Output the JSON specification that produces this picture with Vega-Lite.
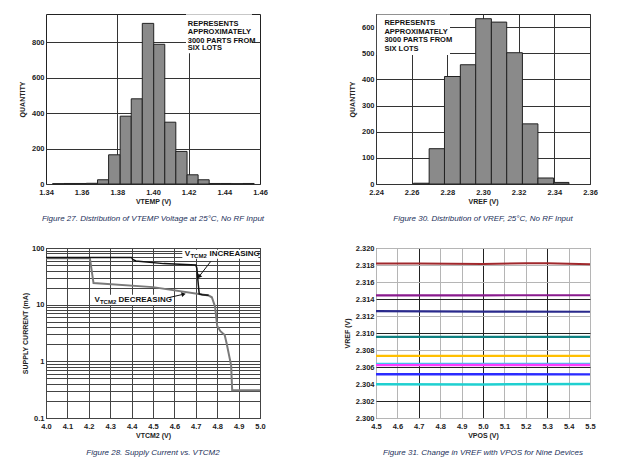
{
  "$schema": "https://vega.github.io/schema/vega-lite/v6.json",
  "padding": {"left": 17, "top": 13, "right": 5, "bottom": 5},
  "background": "white",
  "columns": 2,
  "spacing": {"row": 64, "column": 116},
  "bounds": "flush",
  "resolve": {"scale": {"color": "independent", "strokeWidth": "independent"}},
  "config": {
    "view": {"stroke": "#222", "strokeWidth": 1},
    "axis": {
      "labelFont": "Liberation Sans", "labelFontWeight": "bold", "labelFontSize": 7.5, "labelColor": "#222",
      "titleFont": "Liberation Sans", "titleFontWeight": "bold", "titleFontSize": 7, "titleColor": "#222",
      "ticks": false, "domain": false, "gridColor": "#333", "gridWidth": 1, "gridOpacity": 1, "labelPadding": 3,
      "labelOverlap": false, "tickCount": 40
    },
    "axisX": {"labelFlush": false, "labelPadding": 4, "titlePadding": 2},
    "axisY": {"labelPadding": 2, "titlePadding": 6},
    "title": {"font": "Liberation Sans", "fontStyle": "italic", "fontWeight": "normal", "fontSize": 8, "color": "#23305a", "orient": "bottom", "anchor": "middle", "offset": 10}
  },
  "concat": [
    {
      "width": 214, "height": 170,
      "title": "Figure 27. Distribution of VTEMP Voltage at 25°C, No RF Input",
      "layer": [
        {
          "data": {"values": [
            {"lo": 1.3437, "hi": 1.3500, "count": 2},
            {"lo": 1.3500, "hi": 1.3563, "count": 3},
            {"lo": 1.3563, "hi": 1.3626, "count": 3},
            {"lo": 1.3626, "hi": 1.3689, "count": 4},
            {"lo": 1.3689, "hi": 1.3751, "count": 24},
            {"lo": 1.3751, "hi": 1.3816, "count": 165},
            {"lo": 1.3816, "hi": 1.3878, "count": 383},
            {"lo": 1.3878, "hi": 1.3940, "count": 481},
            {"lo": 1.3940, "hi": 1.4004, "count": 907},
            {"lo": 1.4004, "hi": 1.4066, "count": 789},
            {"lo": 1.4066, "hi": 1.4128, "count": 349},
            {"lo": 1.4128, "hi": 1.4191, "count": 184},
            {"lo": 1.4191, "hi": 1.4253, "count": 52},
            {"lo": 1.4253, "hi": 1.4315, "count": 24},
            {"lo": 1.4315, "hi": 1.4378, "count": 3},
            {"lo": 1.4378, "hi": 1.4441, "count": 3},
            {"lo": 1.4441, "hi": 1.4504, "count": 2},
            {"lo": 1.4504, "hi": 1.4567, "count": 3}
          ]},
          "mark": {"type": "rect", "fill": "#8a8a8a", "stroke": "#222", "strokeWidth": 1},
          "encoding": {
            "x": {"field": "lo", "type": "quantitative", "scale": {"domain": [1.34, 1.46], "nice": false},
              "axis": {"values": [1.34, 1.36, 1.38, 1.40, 1.42, 1.44, 1.46], "tickCount": 40, "format": ".2f", "title": "VTEMP (V)",
                "gridOpacity": {"condition": {"test": "abs(datum.value-1.38)<1e-6 || abs(datum.value-1.42)<1e-6", "value": 1}, "value": 0}}},
            "x2": {"field": "hi"},
            "y": {"field": "count", "type": "quantitative", "scale": {"domain": [0, 960], "nice": false},
              "axis": {"values": [0, 200, 400, 600, 800], "title": "QUANTITY"}},
            "y2": {"datum": 0}
          }
        },
        {
          "data": {"values": [{"x1": 1.4185, "x2": 1.4555, "y1": 738, "y2": 958}]},
          "mark": {"type": "rect", "fill": "white"},
          "encoding": {
            "x": {"field": "x1", "type": "quantitative"}, "x2": {"field": "x2"},
            "y": {"field": "y1", "type": "quantitative"}, "y2": {"field": "y2"}
          }
        },
        {
          "data": {"values": [
            {"t": "REPRESENTS", "x": 1.4195, "y": 903},
            {"t": "APPROXIMATELY", "x": 1.4195, "y": 856},
            {"t": "3000 PARTS FROM", "x": 1.4195, "y": 809},
            {"t": "SIX LOTS", "x": 1.4195, "y": 766}
          ]},
          "mark": {"type": "text", "align": "left", "baseline": "middle", "font": "Liberation Sans", "fontWeight": "bold", "fontSize": 7.5, "color": "#111"},
          "encoding": {
            "x": {"field": "x", "type": "quantitative"},
            "y": {"field": "y", "type": "quantitative"},
            "text": {"field": "t"}
          }
        }
      ]
    },
    {
      "width": 214, "height": 170,
      "title": "Figure 30. Distribution of VREF, 25°C, No RF Input",
      "layer": [
        {
          "data": {"values": [
            {"lo": 2.2610, "hi": 2.2698, "count": 3},
            {"lo": 2.2698, "hi": 2.2784, "count": 135},
            {"lo": 2.2784, "hi": 2.2873, "count": 411},
            {"lo": 2.2873, "hi": 2.2959, "count": 456},
            {"lo": 2.2959, "hi": 2.3047, "count": 632},
            {"lo": 2.3047, "hi": 2.3133, "count": 619},
            {"lo": 2.3133, "hi": 2.3221, "count": 502},
            {"lo": 2.3221, "hi": 2.3308, "count": 230},
            {"lo": 2.3308, "hi": 2.3396, "count": 23},
            {"lo": 2.3396, "hi": 2.3482, "count": 6}
          ]},
          "mark": {"type": "rect", "fill": "#8a8a8a", "stroke": "#222", "strokeWidth": 1},
          "encoding": {
            "x": {"field": "lo", "type": "quantitative", "scale": {"domain": [2.24, 2.36], "nice": false},
              "axis": {"values": [2.24, 2.26, 2.28, 2.30, 2.32, 2.34, 2.36], "tickCount": 40, "format": ".2f", "title": "VREF (V)"}},
            "x2": {"field": "hi"},
            "y": {"field": "count", "type": "quantitative", "scale": {"domain": [0, 650], "nice": false},
              "axis": {"values": [0, 100, 200, 300, 400, 500, 600], "title": "QUANTITY"}},
            "y2": {"datum": 0}
          }
        },
        {
          "data": {"values": [{"x1": 2.2405, "x2": 2.2815, "y1": 493, "y2": 648}]},
          "mark": {"type": "rect", "fill": "white"},
          "encoding": {
            "x": {"field": "x1", "type": "quantitative"}, "x2": {"field": "x2"},
            "y": {"field": "y1", "type": "quantitative"}, "y2": {"field": "y2"}
          }
        },
        {
          "data": {"values": [
            {"t": "REPRESENTS", "x": 2.2447, "y": 614},
            {"t": "APPROXIMATELY", "x": 2.2447, "y": 581},
            {"t": "3000 PARTS FROM", "x": 2.2447, "y": 549},
            {"t": "SIX LOTS", "x": 2.2447, "y": 517}
          ]},
          "mark": {"type": "text", "align": "left", "baseline": "middle", "font": "Liberation Sans", "fontWeight": "bold", "fontSize": 7.5, "color": "#111"},
          "encoding": {
            "x": {"field": "x", "type": "quantitative"},
            "y": {"field": "y", "type": "quantitative"},
            "text": {"field": "t"}
          }
        }
      ]
    },
    {
      "width": 214, "height": 170,
      "title": "Figure 28. Supply Current vs. VTCM2",
      "layer": [
        {
          "data": {"values": [
            {"s": "DECREASING", "v": 4.0, "i": 66},
            {"s": "DECREASING", "v": 4.205, "i": 66},
            {"s": "DECREASING", "v": 4.222, "i": 24},
            {"s": "DECREASING", "v": 4.5, "i": 20.4},
            {"s": "DECREASING", "v": 4.76, "i": 14.5},
            {"s": "DECREASING", "v": 4.775, "i": 13.5},
            {"s": "DECREASING", "v": 4.785, "i": 10.5},
            {"s": "DECREASING", "v": 4.79, "i": 9.2},
            {"s": "DECREASING", "v": 4.80, "i": 4.2},
            {"s": "DECREASING", "v": 4.815, "i": 3.4},
            {"s": "DECREASING", "v": 4.835, "i": 2.9},
            {"s": "DECREASING", "v": 4.845, "i": 2.0},
            {"s": "DECREASING", "v": 4.855, "i": 1.3},
            {"s": "DECREASING", "v": 4.865, "i": 0.85},
            {"s": "DECREASING", "v": 4.87, "i": 0.31},
            {"s": "DECREASING", "v": 5.0, "i": 0.31},
            {"s": "INCREASING", "v": 4.0, "i": 68},
            {"s": "INCREASING", "v": 4.4, "i": 68},
            {"s": "INCREASING", "v": 4.405, "i": 63},
            {"s": "INCREASING", "v": 4.42, "i": 59},
            {"s": "INCREASING", "v": 4.55, "i": 53},
            {"s": "INCREASING", "v": 4.70, "i": 50},
            {"s": "INCREASING", "v": 4.705, "i": 44},
            {"s": "INCREASING", "v": 4.712, "i": 22},
            {"s": "INCREASING", "v": 4.716, "i": 15.5},
            {"s": "INCREASING", "v": 4.73, "i": 15},
            {"s": "INCREASING", "v": 4.76, "i": 14.6}
          ]},
          "mark": {"type": "line", "interpolate": "linear"},
          "encoding": {
            "x": {"field": "v", "type": "quantitative", "scale": {"domain": [4.0, 5.0], "nice": false},
              "axis": {"values": [4.0, 4.1, 4.2, 4.3, 4.4, 4.5, 4.6, 4.7, 4.8, 4.9, 5.0], "format": ".1f", "title": "VTCM2 (V)", "gridColor": "#444"}},
            "y": {"field": "i", "type": "quantitative", "scale": {"type": "log", "domain": [0.1, 100], "nice": false},
              "axis": {"values": [0.1, 0.2, 0.3, 0.4, 0.5, 0.6, 0.7, 0.8, 0.9, 1, 2, 3, 4, 5, 6, 7, 8, 9, 10, 20, 30, 40, 50, 60, 70, 80, 90, 100],
                "format": "~g", "labelOverlap": false, "titlePadding": 3,
                "labelExpr": "(datum.value==0.1||datum.value==1||datum.value==10||datum.value==100) ? datum.label : ''",
                "title": "SUPPLY CURRENT (mA)", "gridColor": "#444"}},
            "color": {"field": "s", "type": "nominal", "scale": {"domain": ["DECREASING", "INCREASING"], "range": ["#7a7a7a", "#111111"]}, "legend": null},
            "strokeWidth": {"field": "s", "type": "nominal", "scale": {"domain": ["DECREASING", "INCREASING"], "range": [2, 1.5]}, "legend": null}
          }
        },
        {
          "data": {"values": [
            {"x1": 4.637, "x2": 4.992, "y1": 64.7, "y2": 93},
            {"x1": 4.211, "x2": 4.573, "y1": 9.9, "y2": 14.9}
          ]},
          "mark": {"type": "rect", "fill": "white"},
          "encoding": {
            "x": {"field": "x1", "type": "quantitative"}, "x2": {"field": "x2"},
            "y": {"field": "y1", "type": "quantitative"}, "y2": {"field": "y2"}
          }
        },
        {
          "data": {"values": [
            {"x1": 4.77, "y1": 58, "x2": 4.717, "y2": 32},
            {"x1": 4.573, "y1": 13.3, "x2": 4.64, "y2": 15.2}
          ]},
          "mark": {"type": "rule", "color": "#111", "strokeWidth": 1},
          "encoding": {
            "x": {"field": "x1", "type": "quantitative"}, "x2": {"field": "x2"},
            "y": {"field": "y1", "type": "quantitative"}, "y2": {"field": "y2"}
          }
        },
        {
          "data": {"values": [{"x": 4.717, "y": 32}]},
          "mark": {"type": "point", "shape": "triangle", "filled": true, "color": "#111", "size": 24, "angle": 217, "opacity": 1},
          "encoding": {"x": {"field": "x", "type": "quantitative"}, "y": {"field": "y", "type": "quantitative"}}
        },
        {
          "data": {"values": [{"x": 4.64, "y": 15.2}]},
          "mark": {"type": "point", "shape": "triangle", "filled": true, "color": "#111", "size": 24, "angle": 77, "opacity": 1},
          "encoding": {"x": {"field": "x", "type": "quantitative"}, "y": {"field": "y", "type": "quantitative"}}
        },
        {
          "data": {"values": [
            {"t": "V", "x": 4.648, "y": 79.4},
            {"t": "INCREASING", "x": 4.764, "y": 79.4},
            {"t": "V", "x": 4.227, "y": 12.1},
            {"t": "DECREASING", "x": 4.339, "y": 12.1}
          ]},
          "mark": {"type": "text", "align": "left", "baseline": "middle", "font": "Liberation Sans", "fontWeight": "bold", "fontSize": 8, "color": "#111"},
          "encoding": {
            "x": {"field": "x", "type": "quantitative"},
            "y": {"field": "y", "type": "quantitative"},
            "text": {"field": "t"}
          }
        },
        {
          "data": {"values": [
            {"t": "TCM2", "x": 4.675, "y": 79.4},
            {"t": "TCM2", "x": 4.252, "y": 12.1}
          ]},
          "mark": {"type": "text", "align": "left", "baseline": "middle", "dy": 2, "font": "Liberation Sans", "fontWeight": "bold", "fontSize": 6, "color": "#111"},
          "encoding": {
            "x": {"field": "x", "type": "quantitative"},
            "y": {"field": "y", "type": "quantitative"},
            "text": {"field": "t"}
          }
        }
      ]
    },
    {
      "width": 214, "height": 170,
      "title": "Figure 31. Change in VREF with VPOS for Nine Devices",
      "data": {"values": [
        {"d": "d1", "v": 4.5, "r": 2.31818}, {"d": "d1", "v": 4.7, "r": 2.31818}, {"d": "d1", "v": 5.0, "r": 2.31812}, {"d": "d1", "v": 5.2, "r": 2.31822}, {"d": "d1", "v": 5.3, "r": 2.3182}, {"d": "d1", "v": 5.5, "r": 2.31808},
        {"d": "d2", "v": 4.5, "r": 2.31443}, {"d": "d2", "v": 5.0, "r": 2.31443}, {"d": "d2", "v": 5.5, "r": 2.31445},
        {"d": "d3", "v": 4.5, "r": 2.31257}, {"d": "d3", "v": 5.0, "r": 2.31252}, {"d": "d3", "v": 5.5, "r": 2.3125},
        {"d": "d4", "v": 4.5, "r": 2.30955}, {"d": "d4", "v": 5.0, "r": 2.30955}, {"d": "d4", "v": 5.5, "r": 2.30955},
        {"d": "d5", "v": 4.5, "r": 2.3073}, {"d": "d5", "v": 5.0, "r": 2.3073}, {"d": "d5", "v": 5.5, "r": 2.3073},
        {"d": "d6", "v": 4.5, "r": 2.30635}, {"d": "d6", "v": 5.0, "r": 2.30635}, {"d": "d6", "v": 5.5, "r": 2.30635},
        {"d": "d7", "v": 4.5, "r": 2.30622}, {"d": "d7", "v": 5.0, "r": 2.30624}, {"d": "d7", "v": 5.5, "r": 2.30624},
        {"d": "d8", "v": 4.5, "r": 2.30515}, {"d": "d8", "v": 5.0, "r": 2.30514}, {"d": "d8", "v": 5.5, "r": 2.30513},
        {"d": "d9", "v": 4.5, "r": 2.30398}, {"d": "d9", "v": 5.0, "r": 2.30395}, {"d": "d9", "v": 5.5, "r": 2.304}
      ]},
      "mark": {"type": "line"},
      "encoding": {
        "x": {"field": "v", "type": "quantitative", "scale": {"domain": [4.5, 5.5], "nice": false},
          "axis": {"values": [4.5, 4.6, 4.7, 4.8, 4.9, 5.0, 5.1, 5.2, 5.3, 5.4, 5.5], "format": ".1f", "title": "VPOS (V)",
            "gridColor": {"condition": {"test": "abs(datum.value-4.7)<1e-6 || abs(datum.value-5.0)<1e-6 || abs(datum.value-5.3)<1e-6", "value": "#222"}, "value": "#b5b5b5"}}},
        "y": {"field": "r", "type": "quantitative", "scale": {"domain": [2.3, 2.32], "nice": false, "zero": false},
          "axis": {"values": [2.300, 2.302, 2.304, 2.306, 2.308, 2.310, 2.312, 2.314, 2.316, 2.318, 2.320], "format": ".3f", "title": "VREF (V)", "titlePadding": 5,
            "gridColor": {"condition": {"test": "abs(datum.value-2.302)<1e-7 || abs(datum.value-2.306)<1e-7 || abs(datum.value-2.310)<1e-7 || abs(datum.value-2.314)<1e-7", "value": "#222"}, "value": "#b5b5b5"}}},
        "color": {"field": "d", "type": "nominal", "legend": null,
          "scale": {"domain": ["d1", "d2", "d3", "d4", "d5", "d6", "d7", "d8", "d9"],
            "range": ["#a0282c", "#8a1a8e", "#2a2a8c", "#0f8080", "#ffbf00", "#3fc6ef", "#ff3cff", "#2b2bff", "#1fd0d0"]}},
        "strokeWidth": {"field": "d", "type": "nominal", "legend": null,
          "scale": {"domain": ["d1", "d2", "d3", "d4", "d5", "d6", "d7", "d8", "d9"],
            "range": [2, 2.5, 1.8, 3, 3, 2, 1.2, 1.8, 2.5]}}
      }
    }
  ]
}
